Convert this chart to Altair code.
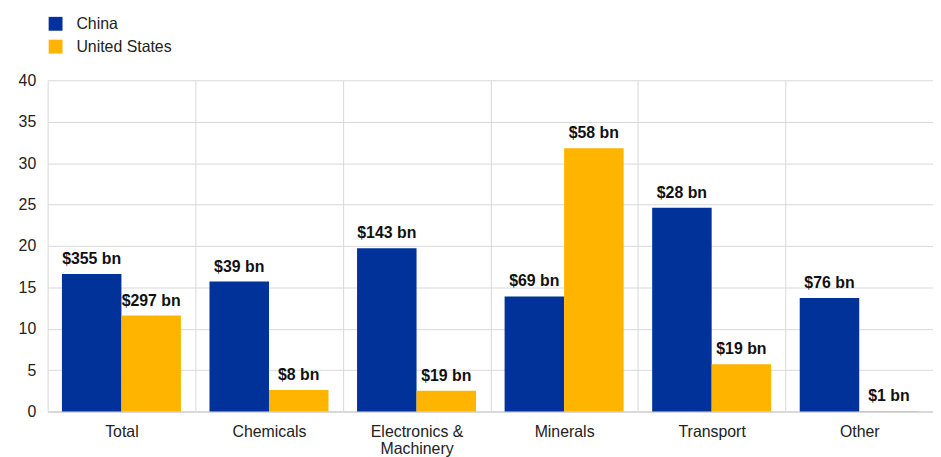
import altair as alt
import pandas as pd

categories = ["Total", "Chemicals", "Electronics & Machinery", "Minerals", "Transport", "Other"]
series = ["China", "United States"]
china_values = [16.6, 15.7, 19.7, 13.9, 24.6, 13.7]
us_values = [11.6, 2.6, 2.5, 31.8, 5.7, 0.05]
china_labels = ["$355 bn", "$39 bn", "$143 bn", "$69 bn", "$28 bn", "$76 bn"]
us_labels = ["$297 bn", "$8 bn", "$19 bn", "$58 bn", "$19 bn", "$1 bn"]
y_ticks = [0, 5, 10, 15, 20, 25, 30, 35, 40]
colors = ["#003299", "#FFB400"]

rows = []
for c, v, l in zip(categories, china_values, china_labels):
    rows.append({"cat": c, "series": "China", "value": v, "label": l})
for c, v, l in zip(categories, us_values, us_labels):
    rows.append({"cat": c, "series": "United States", "value": v, "label": l})
df = pd.DataFrame(rows)

FONT = "Liberation Sans"

x = alt.X(
    "cat:N",
    sort=categories,
    title=None,
    scale=alt.Scale(paddingInner=0, paddingOuter=0),
    axis=alt.Axis(
        tickBand="extent",
        grid=True,
        gridColor="#d9d9d9",
        gridWidth=1,
        ticks=False,
        domain=True,
        domainColor="#d9d9d9",
        domainWidth=2,
        labelAngle=0,
        labelFont=FONT,
        labelFontSize=16,
        labelColor="#222222",
        labelPadding=12,
        labelLineHeight=17,
        labelExpr="datum.value == 'Electronics & Machinery' ? ['Electronics &', 'Machinery'] : datum.value",
    ),
)
xoff = alt.XOffset("series:N", sort=series, scale=alt.Scale(paddingOuter=0.24, paddingInner=0))
y = alt.Y(
    "value:Q",
    title=None,
    scale=alt.Scale(domain=[0, 40], nice=False),
    axis=alt.Axis(
        values=y_ticks,
        grid=True,
        gridColor="#d9d9d9",
        ticks=False,
        domain=False,
        labelFont=FONT,
        labelFontSize=16,
        labelColor="#222222",
        labelPadding=12,
    ),
)
color = alt.Color(
    "series:N",
    sort=series,
    scale=alt.Scale(domain=series, range=colors),
    legend=alt.Legend(
        title=None,
        orient="none",
        legendX=0,
        legendY=-65,
        symbolType="square",
        symbolSize=196,
        symbolStrokeWidth=0,
        labelFont=FONT,
        labelFontSize=16,
        labelColor="#222222",
        labelOffset=13,
        rowPadding=7,
        padding=0,
    ),
)

bars = alt.Chart(df).mark_bar(stroke=None).encode(x=x, xOffset=xoff, y=y, color=color)
text = alt.Chart(df).mark_text(
    font=FONT, fontSize=16, fontWeight="bold", color="#111111", baseline="alphabetic", dy=-10
).encode(x=x, xOffset=xoff, y=y, text="label:N")

chart = (
    alt.layer(bars, text)
    .properties(
        width=893,
        height=334,
        autosize=alt.AutoSizeParams(type="none"),
        padding={"left": 40, "top": 71, "right": 0, "bottom": 44},
    )
    .configure_view(stroke=None)
)

chart.save("out.html", embed_options={"renderer": "svg", "actions": False})
